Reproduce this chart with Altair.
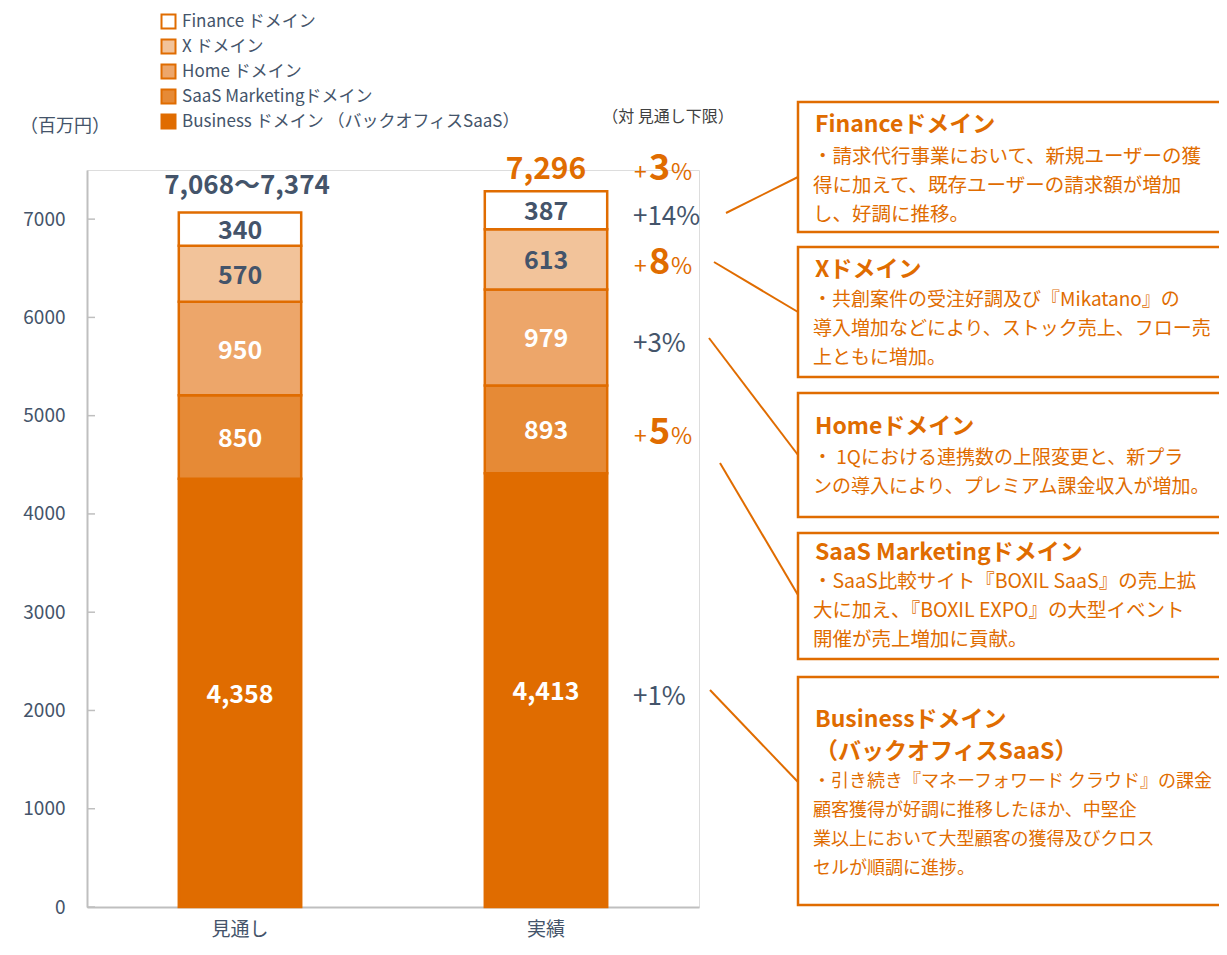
import altair as alt
import pandas as pd

# ---------------- data ----------------
categories = ["見通し", "実績"]
domains = [
    "Business ドメイン （バックオフィスSaaS）",
    "SaaS Marketingドメイン",
    "Home ドメイン",
    "X ドメイン",
    "Finance ドメイン",
]
forecast = [4358, 850, 950, 570, 340]
actual = [4413, 893, 979, 613, 387]
forecast_lower = 7068
forecast_upper = 7374
actual_total = 7296
pct_vs_lower = [1, 5, 3, 8, 14]
pct_total = 3
pct_highlight = [False, True, False, True, False]
y_ticks = [0, 1000, 2000, 3000, 4000, 5000, 6000, 7000]

box_titles = [
    ["Financeドメイン"],
    ["Xドメイン"],
    ["Homeドメイン"],
    ["SaaS Marketingドメイン"],
    ["Businessドメイン", "（バックオフィスSaaS）"],
]
box_bodies = [
    ["・請求代行事業において、新規ユーザーの獲", "得に加えて、既存ユーザーの請求額が増加", "し、好調に推移。"],
    ["・共創案件の受注好調及び『Mikatano』の", "導入増加などにより、ストック売上、フロー売", "上ともに増加。"],
    ["・ 1Qにおける連携数の上限変更と、新プラ", "ンの導入により、プレミアム課金収入が増加。"],
    ["・SaaS比較サイト『BOXIL SaaS』の売上拡", "大に加え、『BOXIL EXPO』の大型イベント", "開催が売上増加に貢献。"],
    ["・引き続き『マネーフォワード クラウド』の課金", "顧客獲得が好調に推移したほか、中堅企", "業以上において大型顧客の獲得及びクロス", "セルが順調に進捗。"],
]

# ---------------- styles ----------------
ORANGE = "#E06C00"
DARK = "#44546A"
GRAY = "#BFBFBF"
FONT = "Noto Sans CJK JP"
seg_colors = ["#E06C00", "#E68A36", "#EDA66A", "#F2C39A", "#FFFFFF"]
seg_text_colors = ["#FFFFFF", "#FFFFFF", "#FFFFFF", DARK, DARK]

# ---------------- tables ----------------
rows = []
for cat, vals in zip(categories, [forecast, actual]):
    cum = 0
    for i, (d, v) in enumerate(zip(domains, vals)):
        rows.append({
            "category": cat, "domain": d, "value": v, "rank": i,
            "mid": cum + v / 2, "label": f"{v:,}", "lc": seg_text_colors[i],
        })
        cum += v
df = pd.DataFrame(rows)

df_tot_f = pd.DataFrame({"category": [categories[0]], "total": [forecast_lower],
                         "text": [f"{forecast_lower:,}〜{forecast_upper:,}"]})
df_tot_a = pd.DataFrame({"category": [categories[1]], "total": [actual_total],
                         "text": [f"{actual_total:,}"]})

act = df[df.category == categories[1]].reset_index(drop=True)
act["hl"] = pct_highlight
act["ptxt"] = ["+" + str(p) + "%" for p in pct_vs_lower]
act["num"] = [str(p) for p in pct_vs_lower]
df_pct_dark = act[~act.hl]
df_pct_hl = act[act.hl]
df_pct_total = pd.DataFrame({"category": [categories[1]], "mid": [actual_total],
                             "num": [str(pct_total)]})

x_enc = alt.X("category:N", sort=categories,
              scale=alt.Scale(paddingInner=0.6, paddingOuter=0.3),
              axis=alt.Axis(title=None, labelAngle=0, ticks=False, tickSize=0,
                            labelFontSize=19, labelColor=DARK, labelPadding=13,
                            domainColor=GRAY, domainWidth=2, labelFont=FONT))
y_scale = alt.Scale(domain=[0, 7500], nice=False, zero=True)

legend_order = domains[::-1]
legend_colors = seg_colors[::-1]

bars = alt.Chart(df).mark_bar(stroke=ORANGE, strokeWidth=2.5).encode(
    x=x_enc,
    y=alt.Y("value:Q", stack="zero", scale=y_scale,
            axis=alt.Axis(title=None, values=y_ticks, grid=False, ticks=False, tickSize=0,
                          format="d", labelFontSize=19, labelColor=DARK, labelPadding=22,
                          domainColor=GRAY, domainWidth=2, labelFont=FONT)),
    color=alt.Color("domain:N", scale=alt.Scale(domain=legend_order, range=legend_colors),
                    legend=alt.Legend(orient="none", legendX=73, legendY=-157, title=None,
                                      symbolType="square", symbolSize=196,
                                      symbolStrokeColor=ORANGE, symbolStrokeWidth=2,
                                      symbolOpacity=1,
                                      labelFontSize=17, labelColor=DARK, labelFont=FONT,
                                      labelLimit=0, labelOffset=5, rowPadding=2, padding=0)),
    order=alt.Order("rank:Q", sort="ascending"),
)

yticks_df = pd.DataFrame({"t": y_ticks})
yticks = alt.Chart(yticks_df).mark_rule(color=GRAY, strokeWidth=1.5).encode(
    y=alt.Y("t:Q", scale=y_scale), x=alt.value(0), x2=alt.value(8))

seg_labels = alt.Chart(df).mark_text(fontSize=25, fontWeight="bold", font=FONT,
                                     baseline="middle", dy=2).encode(
    x=alt.X("category:N", sort=categories), y=alt.Y("mid:Q", scale=y_scale),
    text="label:N", color=alt.Color("lc:N", scale=None))

tot_f_lbl = alt.Chart(df_tot_f).mark_text(fontSize=26, fontWeight="bold", font=FONT,
                                          color=DARK, baseline="middle", dx=7, dy=-26).encode(
    x=alt.X("category:N", sort=categories), y=alt.Y("total:Q", scale=y_scale), text="text:N")
tot_a_lbl = alt.Chart(df_tot_a).mark_text(fontSize=30, fontWeight="bold", font=FONT,
                                          color=ORANGE, baseline="middle", dy=-20).encode(
    x=alt.X("category:N", sort=categories), y=alt.Y("total:Q", scale=y_scale), text="text:N")

pct_dark = alt.Chart(df_pct_dark).mark_text(fontSize=26, font=FONT, color=DARK, align="left",
                                            baseline="alphabetic", dx=87, dy=15).encode(
    x=alt.X("category:N", sort=categories), y=alt.Y("mid:Q", scale=y_scale), text="ptxt:N")


def hl_layers(frame, dy):
    base = alt.Chart(frame).encode(x=alt.X("category:N", sort=categories),
                                   y=alt.Y("mid:Q", scale=y_scale))
    plus = base.mark_text(fontSize=23, font=FONT, color=ORANGE, align="left",
                          baseline="alphabetic", dx=88, dy=dy, text="+")
    num = base.mark_text(fontSize=36, fontWeight="bold", font=FONT, color=ORANGE, align="left",
                         baseline="alphabetic", dx=103, dy=dy).encode(text="num:N")
    pc = base.mark_text(fontSize=23, font=FONT, color=ORANGE, align="left",
                        baseline="alphabetic", dx=125, dy=dy, text="%")
    return [plus, num, pc]


one = pd.DataFrame({"a": [0]})


def vtext(txt, x, y, **kw):
    return alt.Chart(one).mark_text(text=txt, font=FONT, **kw).encode(
        x=alt.value(x), y=alt.value(y))


extra_text = [
    vtext("（百万円）", -22, -43, fontSize=18, color=DARK, align="center", baseline="middle"),
    vtext("（対 見通し下限）", 581, -53, fontSize=16, color="#404040", align="center", baseline="middle"),
]

# ------------- annotation layout (pixels relative to plot origin) -------------
box_left, box_right = 711, 1160
box_y = [(-68, 62), (77, 207), (223, 347), (363, 489), (507, 735)]
title_y0 = [-45, 100, 257, 383, 550]
body_y0 = [-13, 130, 288, 412, 612]
body_size = [19.5, 19, 19, 19.5, 18]
line_h = 29
connectors = [
    (639, 43, 711, 7),
    (627, 92, 711, 142),
    (622, 168, 711, 285),
    (633, 293, 711, 425),
    (623, 520, 711, 612),
]

ann = []
for (y1, y2) in box_y:
    ann.append(alt.Chart(one).mark_rect(fill="white", stroke=ORANGE, strokeWidth=2.5).encode(
        x=alt.value(box_left), x2=alt.value(box_right), y=alt.value(y1), y2=alt.value(y2)))
for (x1, y1, x2, y2) in connectors:
    ann.append(alt.Chart(one).mark_rule(color=ORANGE, strokeWidth=2).encode(
        x=alt.value(x1), y=alt.value(y1), x2=alt.value(x2), y2=alt.value(y2)))
for titles, body, ty, by, bs in zip(box_titles, box_bodies, title_y0, body_y0, body_size):
    ann.append(vtext("\n".join(titles), 728, ty, fontSize=23, fontWeight="bold", color=ORANGE,
                     align="left", baseline="middle", lineBreak="\n", lineHeight=32))
    ann.append(vtext("\n".join(body), 726, by, fontSize=bs, color=ORANGE,
                     align="left", baseline="middle", lineBreak="\n", lineHeight=line_h))

layers = ([bars, yticks, seg_labels, tot_f_lbl, tot_a_lbl, pct_dark]
          + hl_layers(df_pct_hl, 15) + hl_layers(df_pct_total, -10)
          + extra_text + ann)

chart = alt.layer(*layers).properties(
    width=612, height=737,
    autosize=alt.AutoSizeParams(type="none"),
    padding={"left": 79, "top": 162, "right": 520, "bottom": 38},
).configure_view(stroke=None).configure(font=FONT)

chart.save("out.html", embed_options={"renderer": "svg", "actions": False})
